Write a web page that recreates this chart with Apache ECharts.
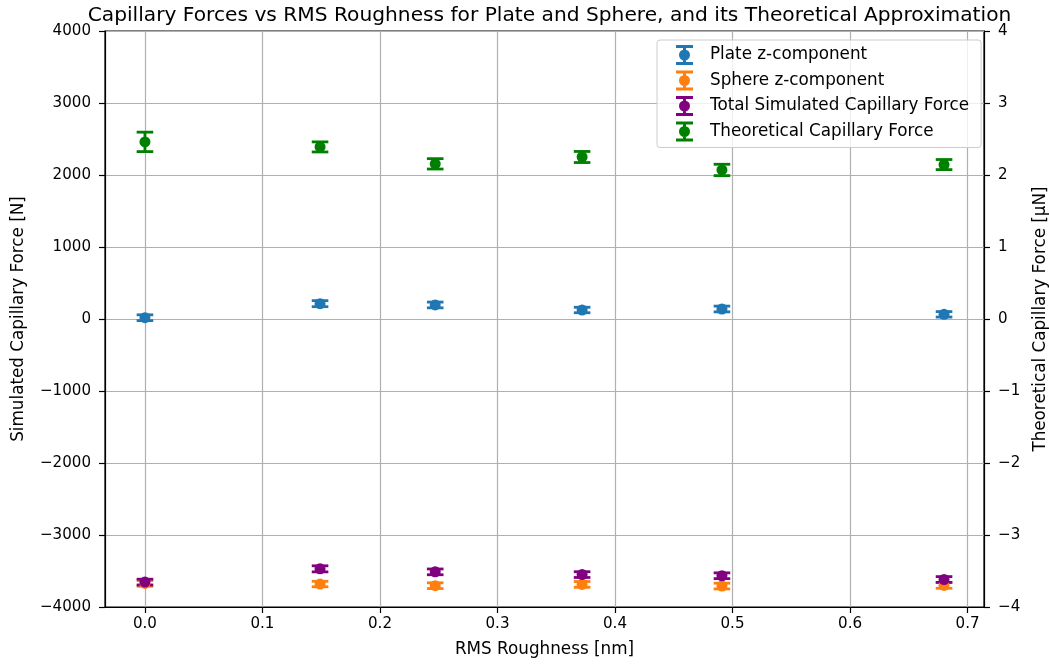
<!DOCTYPE html>
<html>
<head>
<meta charset="utf-8">
<script src="https://cdn.jsdelivr.net/npm/echarts@6/dist/echarts.min.js"></script>
<style>
  html, body { margin: 0; padding: 0; background: #fff; }
  #chart { width: 1049px; height: 666px; }
</style>
</head>
<body>
<div id="chart"></div>
<script>
// RMS roughness of each sample [nm]
const roughness = [0, 0.149, 0.247, 0.372, 0.491, 0.68];

// Simulated forces [N] with their standard deviations
const plateZ = [18, 213, 195, 125, 139, 65];
const plateZErr = [40, 42, 40, 38, 40, 38];
const sphereZ = [-3672, -3681, -3704, -3686, -3709, -3700];
const sphereZErr = [40, 38, 40, 40, 40, 40];
const totalForce = [-3654, -3470, -3512, -3550, -3566, -3618];
const totalForceErr = [40, 42, 40, 40, 40, 40];

// Theoretical approximation [µN] with its uncertainty
const theoreticalForce = [2.46, 2.39, 2.155, 2.25, 2.07, 2.145];
const theoreticalErr = [0.135, 0.07, 0.072, 0.077, 0.079, 0.07];

// Tick positions
const xTicks = [0, 0.1, 0.2, 0.3, 0.4, 0.5, 0.6, 0.7];

const FONT = 'DejaVu Sans';
const TICK_FONT = 15.1;
const LABEL_FONT = 16.8;
const TITLE_FONT = 20.2;
const minusFmt = v => (v < 0 ? '\u2212' + Math.abs(v) : String(v));

// error-bar glyph used for the legend handles (caps, stem, round marker)
const errIcon = 'path://M0,0H17V3H0Z M0,17H17V20H0Z M7,3H10V5H7Z M7,15H10V17H7Z ' +
  'M3,10A5.5,5.5 0 1,1 14,10A5.5,5.5 0 1,1 3,10Z';

function errorBars(name, values, errs, color, yAxisIndex) {
  return {
    type: 'custom',
    name: name,
    yAxisIndex: yAxisIndex,
    silent: true,
    clip: true,
    data: roughness.map((x, i) => [x, values[i], errs[i]]),
    encode: { x: 0, y: 1 },
    renderItem(params, api) {
      const x = api.value(0), y = api.value(1), e = api.value(2);
      const top = api.coord([x, y + e]);
      const bot = api.coord([x, y - e]);
      const half = 8.3;
      const style = { stroke: color, lineWidth: 2.8, fill: null };
      return {
        type: 'group',
        children: [
          { type: 'line', shape: { x1: top[0], y1: top[1], x2: bot[0], y2: bot[1] }, style: style },
          { type: 'line', shape: { x1: top[0] - half, y1: top[1], x2: top[0] + half, y2: top[1] }, style: style },
          { type: 'line', shape: { x1: bot[0] - half, y1: bot[1], x2: bot[0] + half, y2: bot[1] }, style: style }
        ]
      };
    }
  };
}

function markers(name, values, color, yAxisIndex) {
  return {
    type: 'scatter',
    name: name,
    yAxisIndex: yAxisIndex,
    symbol: 'circle',
    symbolSize: 11,
    itemStyle: { color: color, opacity: 1 },
    emphasis: { disabled: true },
    data: roughness.map((x, i) => [x, values[i]])
  };
}

const C_PLATE = '#1f77b4', C_SPHERE = '#ff7f0e', C_TOTAL = '#800080', C_THEO = '#008000';
const GRID_LINE = { color: '#b0b0b0', width: 1.2 };
const SPINE = { color: '#000', width: 1.2 };

const chart = echarts.init(document.getElementById('chart'), null, { renderer: 'canvas' });
chart.setOption({
  animation: false,
  backgroundColor: '#fff',
  textStyle: { fontFamily: FONT },
  title: {
    text: 'Capillary Forces vs RMS Roughness for Plate and Sphere, and its Theoretical Approximation',
    left: 544.5,
    textAlign: 'center',
    top: 1,
    textStyle: { fontFamily: FONT, fontSize: TITLE_FONT, fontWeight: 'normal', color: '#000' }
  },
  grid: {
    left: 105, right: 65, top: 31, bottom: 59,
    outerBoundsMode: 'none',
    containLabel: false,
    show: true, borderColor: '#000', borderWidth: 1.2, backgroundColor: 'transparent'
  },
  legend: {
    orient: 'vertical',
    left: 657,
    top: 40,
    padding: [5, 12, 6, 19],
    itemWidth: 17,
    itemHeight: 20,
    itemGap: 5.5,
    backgroundColor: 'rgba(255,255,255,0.8)',
    borderColor: '#cccccc',
    borderWidth: 1,
    borderRadius: 3,
    selectedMode: false,
    textStyle: { fontFamily: FONT, fontSize: LABEL_FONT, color: '#000', padding: [0, 0, 0, 12] },
    data: [
      { name: 'Plate z-component', icon: errIcon, itemStyle: { color: C_PLATE } },
      { name: 'Sphere z-component', icon: errIcon, itemStyle: { color: C_SPHERE } },
      { name: 'Total Simulated Capillary Force', icon: errIcon, itemStyle: { color: C_TOTAL } },
      { name: 'Theoretical Capillary Force', icon: errIcon, itemStyle: { color: C_THEO } }
    ]
  },
  xAxis: {
    type: 'value',
    min: -0.034,
    max: 0.714,
    minInterval: 0.1,
    maxInterval: 0.1,
    name: 'RMS Roughness [nm]',
    nameLocation: 'middle',
    nameGap: 34,
    nameTextStyle: { fontFamily: FONT, fontSize: LABEL_FONT, color: '#000' },
    axisLine: { show: true, onZero: false, lineStyle: SPINE },
    axisTick: { show: true, inside: false, length: 6, customValues: xTicks, lineStyle: SPINE },
    axisLabel: {
      customValues: xTicks, margin: 10, fontFamily: FONT, fontSize: TICK_FONT, color: '#000',
      formatter: v => v.toFixed(1)
    },
    splitLine: { show: true, lineStyle: GRID_LINE }
  },
  yAxis: [
    {
      type: 'value',
      min: -4000, max: 4000, interval: 1000,
      position: 'left',
      name: 'Simulated Capillary Force [N]',
      nameLocation: 'middle',
      nameGap: 78,
      nameTextStyle: { fontFamily: FONT, fontSize: LABEL_FONT, color: '#000' },
      axisLine: { show: true, onZero: false, lineStyle: SPINE },
      axisTick: { show: true, inside: false, length: 6, lineStyle: SPINE },
      axisLabel: { margin: 14, fontFamily: FONT, fontSize: TICK_FONT, color: '#000', formatter: minusFmt },
      splitLine: { show: true, lineStyle: GRID_LINE }
    },
    {
      type: 'value',
      min: -4, max: 4, interval: 1,
      position: 'right',
      name: 'Theoretical Capillary Force [µN]',
      nameLocation: 'middle',
      nameGap: 48,
      nameTextStyle: { fontFamily: FONT, fontSize: LABEL_FONT, color: '#000' },
      axisLine: { show: true, onZero: false, lineStyle: SPINE },
      axisTick: { show: true, inside: false, length: 6, lineStyle: SPINE },
      axisLabel: { margin: 14, fontFamily: FONT, fontSize: TICK_FONT, color: '#000', formatter: minusFmt },
      splitLine: { show: false }
    }
  ],
  series: [
    errorBars('plate-err', plateZ, plateZErr, C_PLATE, 0),
    markers('Plate z-component', plateZ, C_PLATE, 0),
    errorBars('sphere-err', sphereZ, sphereZErr, C_SPHERE, 0),
    markers('Sphere z-component', sphereZ, C_SPHERE, 0),
    errorBars('total-err', totalForce, totalForceErr, C_TOTAL, 0),
    markers('Total Simulated Capillary Force', totalForce, C_TOTAL, 0),
    errorBars('theo-err', theoreticalForce, theoreticalErr, C_THEO, 1),
    markers('Theoretical Capillary Force', theoreticalForce, C_THEO, 1)
  ]
});
</script>
</body>
</html>
